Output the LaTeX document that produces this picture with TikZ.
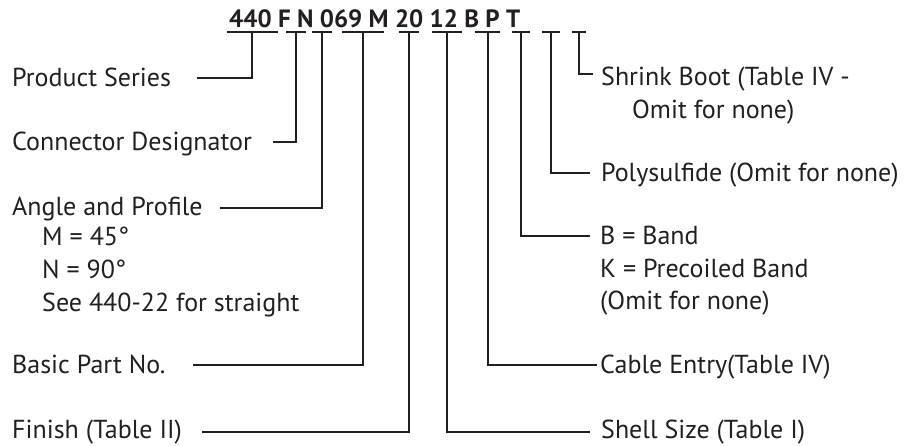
\documentclass[tikz,border=0pt]{standalone}
\usepackage{fontspec}
\setmainfont{PT Sans}
\definecolor{ink}{HTML}{231F20}
\begin{document}
\begin{tikzpicture}[x=1pt,y=-1pt,
  lbl/.style={anchor=base west,inner sep=0pt,font=\fontsize{26}{31}\selectfont,text=ink},
  hdr/.style={anchor=base west,inner sep=0pt,font=\bfseries\fontsize{25}{29}\selectfont,text=ink},
  wire/.style={draw=ink,line width=1.9pt},
  bar/.style={draw=ink,line width=1.9pt}]
\useasboundingbox (0,0) rectangle (907,445);
% header
\node[hdr] (code) at (229,27) {440 F N 069 M 20 12 B P T};
% bars on top of each field
\foreach \a/\b/\n in {227/278/1,286/306/2,312/332/3,342/384/4,399/419/5,432/462/6,475/500/7,512/530/8,542/560/9,572/586/10}{
  \draw[bar] (\a,32) -- (\b,32);
}
\coordinate (s1) at (252,32);
\coordinate (s2) at (296,32);
\coordinate (s3) at (322,32);
\coordinate (s4) at (363,32);
\coordinate (s5) at (409,32);
\coordinate (s6) at (447,32);
\coordinate (s7) at (488,32);
\coordinate (s8) at (521,32);
\coordinate (s9) at (551,32);
\coordinate (s10) at (579,32);
% line ends
\coordinate (e1) at (197,78);
\coordinate (e2) at (273,142);
\coordinate (e3) at (220,208);
\coordinate (e4) at (193,365);
\coordinate (e5) at (202,432);
\coordinate (e6) at (590,432);
\coordinate (e7) at (597,365);
\coordinate (e8) at (590,236);
\coordinate (e9) at (590,173);
\coordinate (e10) at (593,74);
% left labels
\node[lbl] (l1) at (12,86) {Product Series};
\node[lbl] (l2) at (12,150) {Connector Designator};
\node[lbl] (l3) at (12,215) {Angle and Profile};
\node[lbl] (l3a) at (42,245) {M = 45°};
\node[lbl] (l3b) at (42,278) {N = 90°};
\node[lbl] (l3c) at (42,311) {See 440-22 for straight};
\node[lbl] (l4) at (12,373) {Basic Part No.};
\node[lbl] (l5) at (12,438) {Finish (Table II)};
% right labels
\node[lbl] (r10) at (601,85) {Shrink Boot (Table IV -};
\node[lbl] (r10b) at (632,118) {Omit for none)};
\node[lbl] (r9) at (601,181) {Polysulfide (Omit for none)};
\node[lbl] (r8) at (600,244) {B = Band};
\node[lbl] (r8b) at (600,277) {K = Precoiled Band};
\node[lbl] (r8c) at (600,309) {(Omit for none)};
\node[lbl] (r7) at (600,373) {Cable Entry(Table IV)};
\node[lbl] (r6) at (601,438) {Shell Size (Table I)};
% connectors
\draw[wire] (s1) |- (e1);
\draw[wire] (s2) |- (e2);
\draw[wire] (s3) |- (e3);
\draw[wire] (s4) |- (e4);
\draw[wire] (s5) |- (e5);
\draw[wire] (s6) |- (e6);
\draw[wire] (s7) |- (e7);
\draw[wire] (s8) |- (e8);
\draw[wire] (s9) |- (e9);
\draw[wire] (s10) |- (e10);
\end{tikzpicture}
\end{document}
